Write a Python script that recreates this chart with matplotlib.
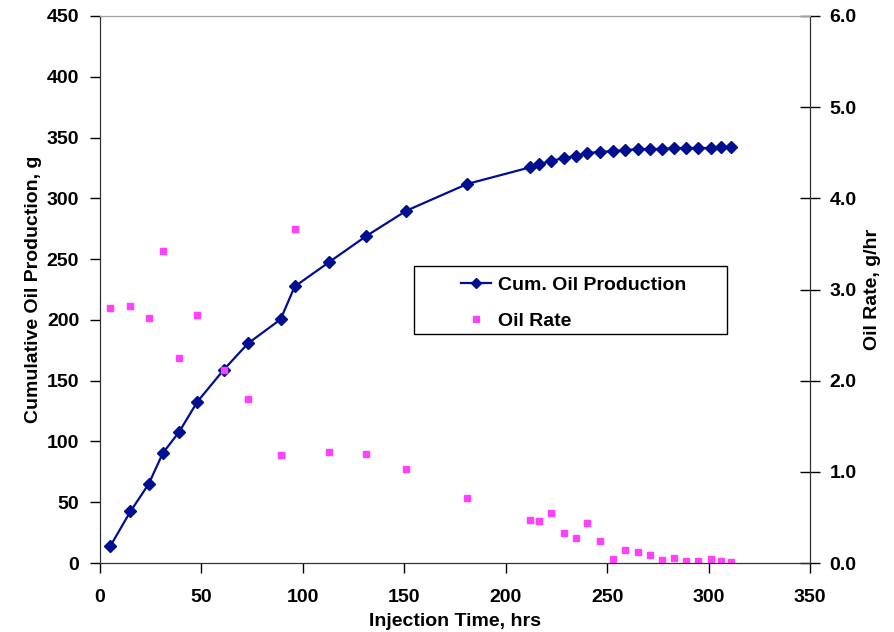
import numpy as np
import matplotlib
matplotlib.use("Agg")
import matplotlib.pyplot as plt
from matplotlib.patches import Rectangle

plt.rcParams['font.family'] = ['Liberation Sans', 'DejaVu Sans']
plt.rcParams['font.weight'] = 'bold'

# injection time, hrs
hours = [5, 15, 24, 31, 39, 48, 61, 73, 89, 96, 113, 131, 151, 181,
         212, 216.5, 222.5, 228.5, 234.5, 240, 246.5, 253, 259, 265,
         271, 277, 283, 289, 295, 301, 306, 311]
# cumulative oil production, g
cum_oil = [13.7, 42.4, 65, 90.5, 107.8, 132.7, 159, 180.7, 200.4, 227.5,
           247.6, 268.7, 289.8, 311.8, 325.5, 328, 331, 332.9, 335.1, 337,
           338.4, 338.7, 339.8, 340.3, 340.6, 340.6, 341.4, 341.4, 341.4,
           341.4, 341.9, 341.9]
# oil rate, g/hr
oil_rate = [2.80, 2.82, 2.69, 3.42, 2.25, 2.72, 2.12, 1.80, 1.18, 3.66,
            1.22, 1.20, 1.03, 0.71, 0.47, 0.46, 0.55, 0.33, 0.27, 0.44,
            0.24, 0.04, 0.14, 0.12, 0.09, 0.03, 0.05, 0.02, 0.02, 0.04,
            0.02, 0.01]

W, H = 894, 632
fig = plt.figure(figsize=(W / 100, H / 100), dpi=100)
ax = fig.add_axes([100 / W, 1 - 563 / H, 710 / W, 547 / H])
ax2 = ax.twinx()

l1, = ax.plot(hours, cum_oil, color='#000f8f', lw=1.6, marker='D', ms=6.5,
              label='Cum. Oil Production')
l2, = ax2.plot(hours, oil_rate, ls='none', color='#ff40ff', marker='s', ms=5,
               label='Oil Rate')

ax.set_xlim(0, 350)
ax.set_ylim(0, 450)
ax2.set_ylim(0, 6)
ax.set_xticks(np.arange(0, 351, 50))
ax.set_yticks(np.arange(0, 451, 50))
ax2.set_yticks(np.arange(0, 6.1, 1))
ax2.set_yticklabels([f'{v:.1f}' for v in np.arange(0, 6.1, 1)])

for a in (ax, ax2):
    a.spines['top'].set_color('#a0a0a0')
    a.spines['left'].set_color('#303030')
    a.spines['right'].set_color('#303030')
    a.spines['bottom'].set_color('#303030')
    a.tick_params(labelsize=14, width=1, length=7, colors='black')
ax.tick_params(axis='x', pad=12)
ax.tick_params(axis='y', pad=8)
ax2.tick_params(axis='y', direction='inout', length=14, pad=7)

ax.set_xlabel('Injection Time, hrs', fontsize=14, fontweight='bold', labelpad=5)
ax.set_ylabel('Cumulative Oil Production, g', fontsize=14, fontweight='bold', labelpad=3)
ax2.set_ylabel('Oil Rate, g/hr', fontsize=14, fontweight='bold', labelpad=5)

# legend box drawn separately, entries placed inside
fig.add_artist(Rectangle((414 / W, 1 - 334 / H), (727 - 414) / W, (334 - 266) / H,
                         transform=fig.transFigure, facecolor='white',
                         edgecolor='black', lw=1, zorder=5))
leg = fig.legend(handles=[l1, l2], loc='upper left',
                 bbox_to_anchor=(461 / W, 1 - 276 / H),
                 fontsize=14, frameon=False, borderpad=0, borderaxespad=0,
                 handlelength=1.55, handletextpad=0.35, labelspacing=0.95)
leg.set_zorder(6)
leg.legend_handles[0].set_markersize(5.5)
leg.legend_handles[1].set_markersize(4)

fig.savefig('out.png', dpi=100)
